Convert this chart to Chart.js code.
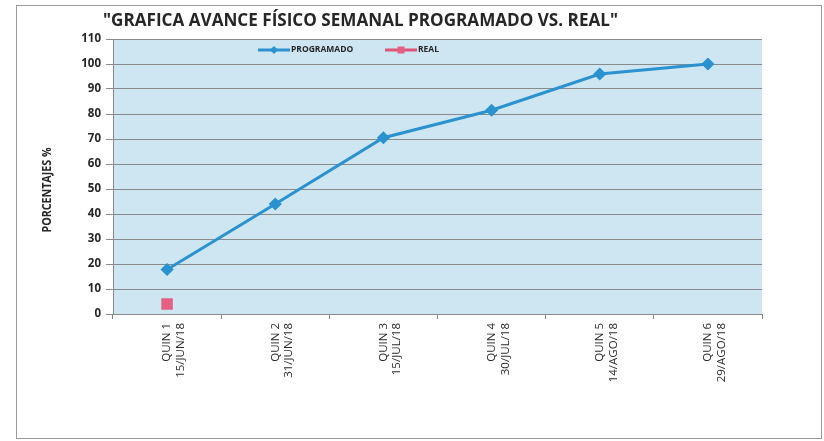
<!DOCTYPE html>
<html><head><meta charset="utf-8">
<script src="https://cdn.jsdelivr.net/npm/chart.js@4.4.0/dist/chart.umd.min.js"></script>
<style>html,body{margin:0;padding:0;background:#fff;}#wrap{width:824px;height:441px;position:relative;}</style>
</head><body><div id="wrap"><canvas id="c" width="824" height="441"></canvas></div>
<script>
const categories = [["QUIN 1","15/JUN/18"],["QUIN 2","31/JUN/18"],["QUIN 3","15/JUL/18"],["QUIN 4","30/JUL/18"],["QUIN 5","14/AGO/18"],["QUIN 6","29/AGO/18"]];
const programado = [17.8, 44, 70.5, 81.5, 96, 100];
const real = [4, null, null, null, null, null];
const yTicks = [0,10,20,30,40,50,60,70,80,90,100,110];
const chartTitle = '"GRAFICA AVANCE FÍSICO SEMANAL PROGRAMADO VS. REAL"';
const yTitle = 'PORCENTAJES %';

const FONT = "'Open Sans', 'Liberation Sans', sans-serif";

const decor = {
  id: 'decor',
  beforeDraw(chart) {
    const {ctx, chartArea: a} = chart;
    ctx.save();
    ctx.fillStyle = '#fff';
    ctx.fillRect(0,0,chart.width,chart.height);
    ctx.strokeStyle = '#9a9a9a';
    ctx.lineWidth = 1;
    ctx.strokeRect(16.5, 5.5, 805, 433);
    ctx.fillStyle = '#cde6f2';
    ctx.fillRect(a.left, a.top, a.right - a.left, a.bottom - a.top);
    ctx.restore();
  },
  afterDraw(chart) {
    const {ctx, chartArea: a} = chart;
    ctx.save();
    ctx.fillStyle = '#262626';
    ctx.font = "bold 17.5px " + FONT;
    ctx.textBaseline = 'middle';
    ctx.textAlign = 'left';
    const tw = ctx.measureText(chartTitle).width;
    ctx.translate(103, 21);
    ctx.scale(515 / tw, 1);
    ctx.fillText(chartTitle, 0, 0);
    ctx.restore();
    ctx.save();
    ctx.fillStyle = '#262626';
    ctx.font = "bold 12px " + FONT;
    ctx.textBaseline = 'middle';
    ctx.textAlign = 'center';
    ctx.translate(48, 190);
    ctx.rotate(-Math.PI / 2);
    const yw = ctx.measureText(yTitle).width;
    ctx.scale(85 / yw, 1);
    ctx.fillText(yTitle, 0, 0);
    ctx.restore();
    ctx.save();
    ctx.font = "bold 8.5px " + FONT;
    ctx.textBaseline = 'middle';
    const ly = 50;
    const xs = [258, 385];
    chart.data.datasets.forEach((ds, i) => {
      const x = xs[i];
      ctx.strokeStyle = ds.borderColor;
      ctx.lineWidth = 3;
      ctx.beginPath(); ctx.moveTo(x, ly); ctx.lineTo(x + 32, ly); ctx.stroke();
      ctx.fillStyle = ds.pointBackgroundColor;
      const cx = x + 16;
      if (ds.pointStyle === 'rectRot') {
        ctx.beginPath(); ctx.moveTo(cx, ly-4); ctx.lineTo(cx+4, ly); ctx.lineTo(cx, ly+4); ctx.lineTo(cx-4, ly); ctx.closePath(); ctx.fill();
      } else {
        ctx.fillRect(cx-3.5, ly-3.5, 7, 7);
      }
      ctx.fillStyle = '#262626';
      ctx.textAlign = 'left';
      ctx.fillText(ds.label, x + 33, ly);
    });
    ctx.restore();
  }
};

new Chart(document.getElementById('c'), {
  type: 'line',
  data: {
    labels: categories,
    datasets: [
      {label: 'PROGRAMADO', data: programado, borderColor: '#2b92d0', backgroundColor: '#2b92d0',
       pointBackgroundColor: '#2b92d0', pointBorderColor: '#2b92d0', borderWidth: 3,
       pointStyle: 'rectRot', pointRadius: 4.5, pointHoverRadius: 4.5, tension: 0},
      {label: 'REAL', data: real, borderColor: '#e05478', backgroundColor: '#e05478',
       pointBackgroundColor: '#e36083', pointBorderColor: '#e36083', borderWidth: 3,
       pointStyle: 'rect', pointRadius: 6, pointHoverRadius: 6}
    ]
  },
  options: {
    responsive: false,
    animation: false,
    layout: {padding: {left: 0, top: 39, right: 62, bottom: 0}},
    plugins: {legend: {display: false}, title: {display: false}, tooltip: {enabled: false}},
    scales: {
      x: {
        offset: true,
        grid: {drawOnChartArea: false, drawTicks: true, tickLength: 5, offset: true, color: '#8a8a8a'},
        border: {display: true, color: '#8a8a8a', width: 1},
        ticks: {maxRotation: 90, minRotation: 90, padding: 4, color: '#2a2a2a', font: {family: FONT, size: 11.5}},
        afterFit(s) { s.height = 127; }
      },
      y: {
        min: 0, max: 110,
        afterBuildTicks(s) { s.ticks = yTicks.map(v => ({value: v})); },
        grid: {color: '#8a8a8a', lineWidth: 1, tickLength: 7, drawTicks: true},
        border: {display: true, color: '#8a8a8a'},
        ticks: {padding: 5, color: '#262626', font: {family: FONT, size: 11.5, weight: 'bold'}},
        afterFit(s) { s.width = 113; }
      }
    }
  },
  plugins: [decor]
});
</script></body></html>
